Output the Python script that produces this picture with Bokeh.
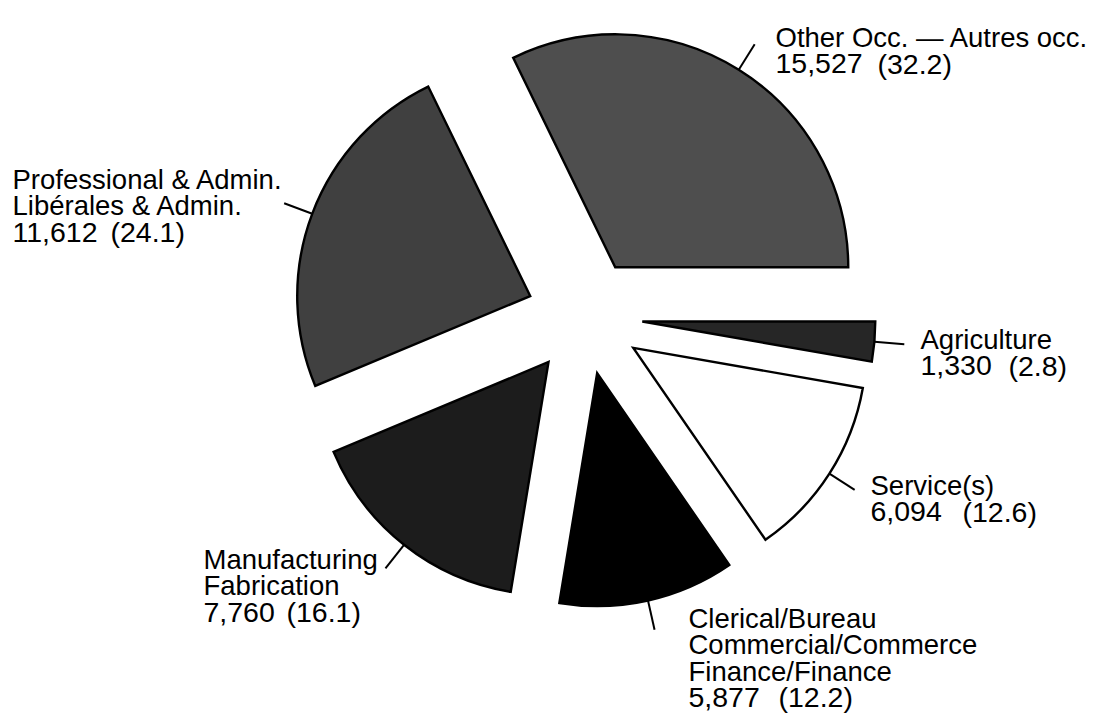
import math
import numpy as np
from bokeh.plotting import figure
from bokeh.models import ColumnDataSource, Range1d
from bokeh.core.properties import value
from bokeh.embed import file_html
from bokeh.resources import INLINE

# ---- data ----
categories = [
    ["Other Occ. \u2014 Autres occ."],
    ["Professional & Admin.", "Lib\u00e9rales & Admin."],
    ["Manufacturing", "Fabrication"],
    ["Clerical/Bureau", "Commercial/Commerce", "Finance/Finance"],
    ["Service(s)"],
    ["Agriculture"],
]
counts = [15527, 11612, 7760, 5877, 6094, 1330]
percents = [32.2, 24.1, 16.1, 12.2, 12.6, 2.8]

# ---- styles / layout ----
fill_colors = ["#4e4e4e", "#404040", "#1c1c1c", "#000000", "#ffffff", "#262626"]
# label anchor (left x, first baseline y) in reference pixels
label_anchor = [(775, 37), (12, 179), (203, 559), (688, 618), (870, 485), (920, 339)]
# x of the "(" of the percentage on the last label line
pct_left = [877, 110, 286, 778, 962, 1008]

W, H = 1100, 716


def to_data(X, Y):
    return X, H - Y


cx, cy = to_data(584, 316)
R = 233
EXPLODE = 58
LEAD = 30
LINE = 26.3

total = float(sum(counts))
fracs = np.array(counts) / total
ends = np.cumsum(fracs) * 2 * math.pi
starts = ends - fracs * 2 * math.pi
mids = (starts + ends) / 2
xs = cx + EXPLODE * np.cos(mids)
ys = cy + EXPLODE * np.sin(mids)

p = figure(width=W, height=H, output_backend="svg", toolbar_location=None,
           x_range=Range1d(0, W), y_range=Range1d(0, H),
           x_axis_location=None, y_axis_location=None, min_border=0)
p.grid.visible = False
p.outline_line_color = None
p.background_fill_color = "white"
p.border_fill_color = "white"

wsrc = ColumnDataSource(dict(x=xs, y=ys, start=starts, end=ends, color=fill_colors))
p.wedge(x="x", y="y", radius=R, start_angle="start", end_angle="end",
        direction="anticlock", fill_color="color", line_color="black",
        line_width=2.4, line_join="miter", source=wsrc)

lsrc = ColumnDataSource(dict(
    x0=xs + R * np.cos(mids), y0=ys + R * np.sin(mids),
    x1=xs + (R + LEAD) * np.cos(mids), y1=ys + (R + LEAD) * np.sin(mids)))
p.segment(x0="x0", y0="y0", x1="x1", y1="y1", line_color="black",
          line_width=2, source=lsrc)

tx, ty, tt = [], [], []
nx, ny, nt = [], [], []
for lines, n, pc, (X, Y), px in zip(categories, counts, percents, label_anchor, pct_left):
    for i, s in enumerate(lines):
        dx, dy = to_data(X, Y + i * LINE)
        tx.append(dx)
        ty.append(dy)
        tt.append(s)
    k = len(lines)
    dx, dy = to_data(X, Y + k * LINE)
    nx.append(dx)
    ny.append(dy)
    nt.append(f"{n:,}")
    dx, dy = to_data(px, Y + k * LINE)
    nx.append(dx)
    ny.append(dy)
    nt.append(f"({pc})")

tsrc = ColumnDataSource(dict(x=tx, y=ty, text=tt))
p.text(x="x", y="y", text="text", source=tsrc, text_align="left",
       text_baseline="alphabetic", text_font=value("Liberation Sans"),
       text_font_size=value("27.5px"), text_color="black")

nsrc = ColumnDataSource(dict(x=nx, y=ny, text=nt))
p.text(x="x", y="y", text="text", source=nsrc, text_align="left",
       text_baseline="alphabetic", text_font=value("Liberation Sans"),
       text_font_size=value("28.5px"), text_color="black")

open("out.html", "w").write(file_html(p, INLINE))
